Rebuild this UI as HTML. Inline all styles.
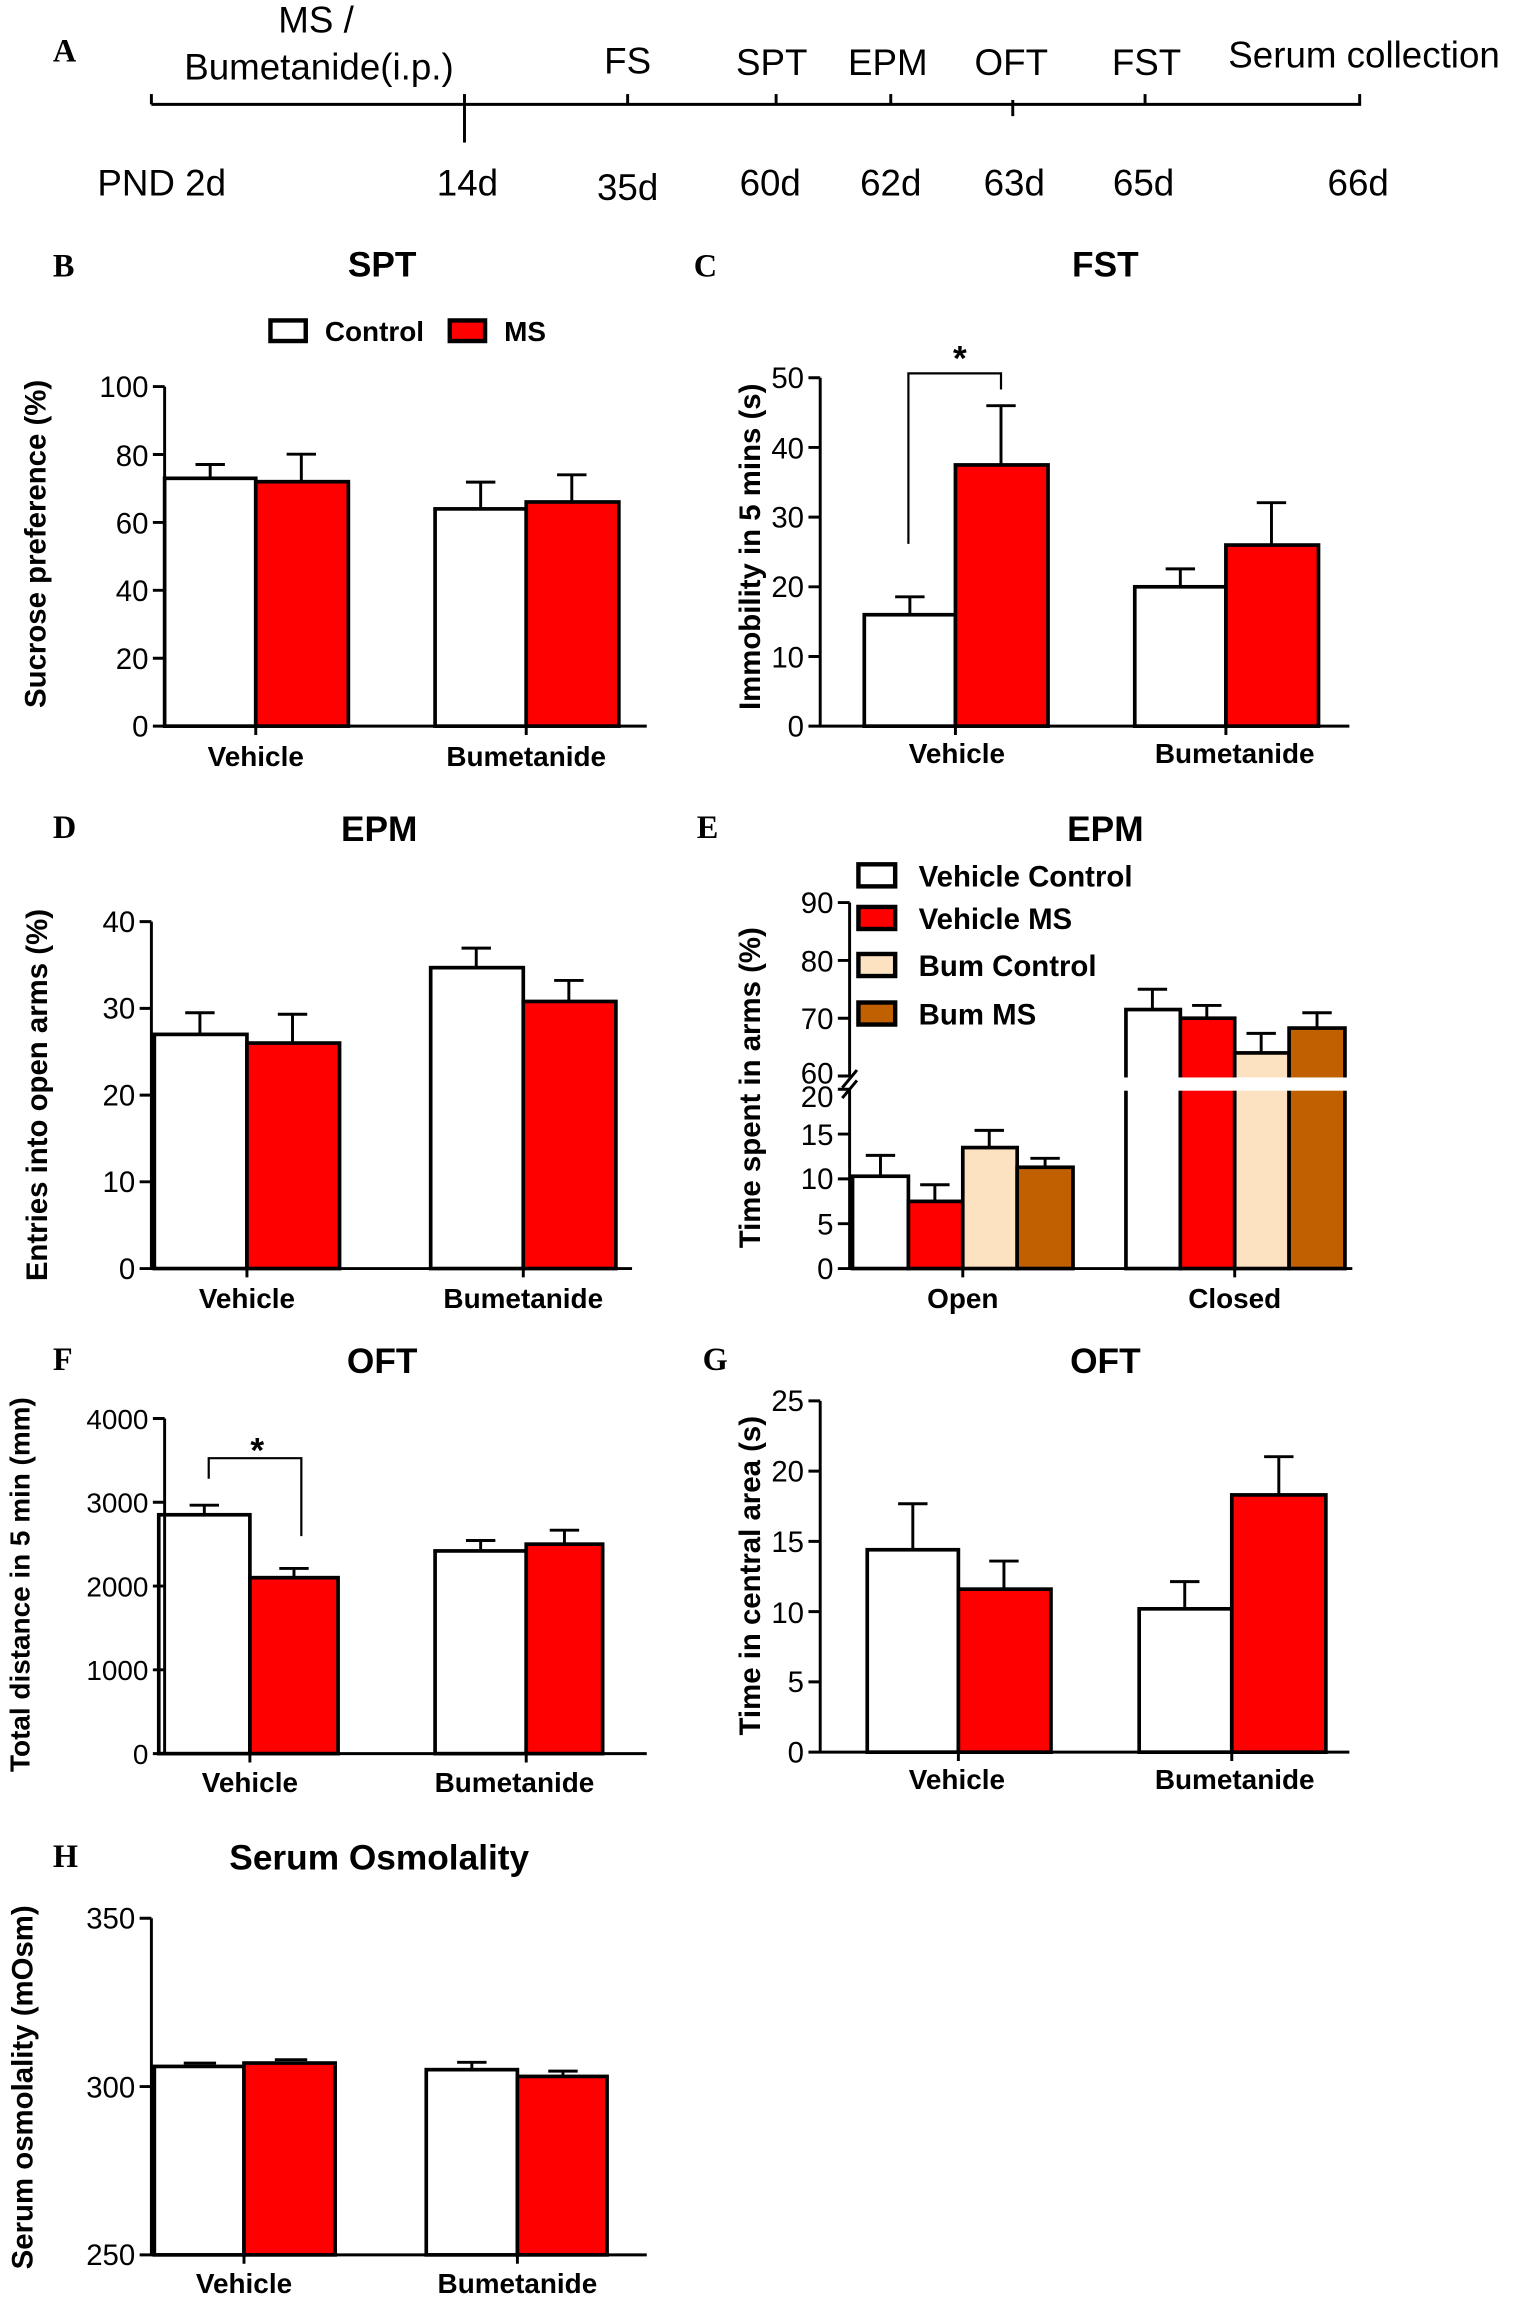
<!DOCTYPE html>
<html><head><meta charset="utf-8"><style>html,body{margin:0;padding:0;background:#fff}svg{display:block}</style></head>
<body>
<svg width="1514" height="2300" viewBox="0 0 1030 1564.7" preserveAspectRatio="none" xmlns="http://www.w3.org/2000/svg" font-family="Liberation Sans, Arial, sans-serif">
<rect width="1030" height="1565" fill="#fff"/>
<g fill="#000" font-family="Liberation Serif, serif" font-weight="bold" font-size="22">
<text x="36" y="42">A</text><text x="36" y="188">B</text><text x="472" y="188">C</text>
<text x="36" y="570">D</text><text x="474" y="570">E</text><text x="36" y="932">F</text>
<text x="478" y="932">G</text><text x="36" y="1270">H</text></g>

<!-- Panel A -->
<g stroke="#000" stroke-width="2" fill="none">
<line x1="103" y1="71" x2="926" y2="71"/>
<line x1="103" y1="64" x2="103" y2="71"/><line x1="316" y1="64" x2="316" y2="97"/>
<line x1="427" y1="64" x2="427" y2="71"/><line x1="528" y1="64" x2="528" y2="71"/>
<line x1="606" y1="64" x2="606" y2="71"/><line x1="689" y1="68" x2="689" y2="79"/>
<line x1="779" y1="64" x2="779" y2="71"/><line x1="925" y1="64" x2="925" y2="71"/></g>
<g font-size="25" text-anchor="middle" fill="#000">
<text x="215" y="22">MS /</text><text x="217" y="54">Bumetanide(i.p.)</text>
<text x="427" y="50">FS</text><text x="525" y="51">SPT</text><text x="604" y="51">EPM</text>
<text x="688" y="51">OFT</text><text x="780" y="51">FST</text><text x="928" y="46">Serum collection</text>
<text x="110" y="133">PND 2d</text><text x="318" y="133">14d</text><text x="427" y="136">35d</text>
<text x="524" y="133">60d</text><text x="606" y="133">62d</text><text x="690" y="133">63d</text>
<text x="778" y="133">65d</text><text x="924" y="133">66d</text></g>

<g font-weight="bold" font-size="24" text-anchor="middle" fill="#000">
<text x="260" y="188">SPT</text><text x="752" y="188">FST</text>
<text x="258" y="572">EPM</text><text x="752" y="572">EPM</text>
<text x="260" y="934">OFT</text><text x="752" y="934">OFT</text>
<text x="258" y="1272">Serum Osmolality</text></g>

<!-- Panel B -->
<g stroke="#000" stroke-width="3">
<rect x="184" y="218" width="24" height="14" fill="#fff"/><rect x="306" y="218" width="24" height="14" fill="#f00"/></g>
<g font-weight="bold" font-size="19" fill="#000"><text x="221" y="232">Control</text><text x="343" y="232">MS</text></g>
<g stroke="#000" stroke-width="2.5">
<rect x="112" y="325.4" width="62" height="168.6" fill="#fff"/>
<rect x="174" y="327.7" width="63" height="166.3" fill="#f00"/>
<rect x="296" y="346.2" width="62" height="147.8" fill="#fff"/>
<rect x="358" y="341.5" width="63" height="152.5" fill="#f00"/></g>
<g stroke="#000" stroke-width="2" fill="none">
<path d="M143 325V316M133 316H153M205 327V309M195 309H215M327 346V328M317 328H337M389 341V323M379 323H399"/>
<path d="M112 263V494H440M104 494H112M104 447.8H112M104 401.6H112M104 355.4H112M104 309.2H112M104 263H112M174 494V500M358 494V500"/></g>
<g font-size="20" text-anchor="end" fill="#000"><text x="101" y="501">0</text><text x="101" y="455">20</text><text x="101" y="409">40</text><text x="101" y="363">60</text><text x="101" y="317">80</text><text x="101" y="270">100</text></g>
<g font-weight="bold" font-size="19" text-anchor="middle" fill="#000">
<text x="174" y="521">Vehicle</text><text x="358" y="521">Bumetanide</text>
<text transform="translate(31 370) rotate(-90)" font-size="20">Sucrose preference (%)</text></g>

<!-- Panel C -->
<g stroke="#000" stroke-width="2.5">
<rect x="588" y="418.2" width="62" height="75.8" fill="#fff"/>
<rect x="650" y="316.3" width="63" height="177.7" fill="#f00"/>
<rect x="772" y="399.2" width="62" height="94.8" fill="#fff"/>
<rect x="834" y="370.8" width="63" height="123.2" fill="#f00"/></g>
<g stroke="#000" stroke-width="2" fill="none">
<path d="M619 418V406M609 406H629M681 316V276M671 276H691M803 399V387M793 387H813M865 371V342M855 342H875"/>
<path d="M618 370V254H681V265" stroke-width="1.5"/>
<path d="M558 257V494H918M550 494H558M550 446.6H558M550 399.2H558M550 351.8H558M550 304.4H558M550 257H558M650 494V500M834 494V500"/></g>
<text x="653" y="252" font-size="24" font-weight="bold" text-anchor="middle">*</text>
<g font-size="20" text-anchor="end" fill="#000"><text x="547" y="501">0</text><text x="547" y="454">10</text><text x="547" y="406">20</text><text x="547" y="359">30</text><text x="547" y="312">40</text><text x="547" y="264">50</text></g>
<g font-weight="bold" font-size="19" text-anchor="middle" fill="#000">
<text x="651" y="519">Vehicle</text><text x="840" y="519">Bumetanide</text>
<text transform="translate(517 372) rotate(-90)" font-size="20">Immobility in 5 mins (s)</text></g>

<!-- Panel D -->
<g stroke="#000" stroke-width="2.5">
<rect x="105" y="703.7" width="63" height="159.3" fill="#fff"/>
<rect x="168" y="709.6" width="63" height="153.4" fill="#f00"/>
<rect x="293" y="658.3" width="63" height="204.7" fill="#fff"/>
<rect x="356" y="681.3" width="63" height="181.7" fill="#f00"/></g>
<g stroke="#000" stroke-width="2" fill="none">
<path d="M136 704V689M126 689H146M199 710V690M189 690H209M324 658V645M314 645H334M387 681V667M377 667H397"/>
<path d="M103 627V863H430M95 863H103M95 804H103M95 745H103M95 686H103M95 627H103M168 863V869M356 863V869"/></g>
<g font-size="20" text-anchor="end" fill="#000"><text x="92" y="870">0</text><text x="92" y="811">10</text><text x="92" y="752">20</text><text x="92" y="693">30</text><text x="92" y="634">40</text></g>
<g font-weight="bold" font-size="19" text-anchor="middle" fill="#000">
<text x="168" y="890">Vehicle</text><text x="356" y="890">Bumetanide</text>
<text transform="translate(32 745) rotate(-90)" font-size="20">Entries into open arms (%)</text></g>

<!-- Panel E -->
<g stroke="#000" stroke-width="3">
<rect x="584" y="588" width="25" height="15" fill="#fff"/>
<rect x="584" y="617" width="25" height="15" fill="#f00"/>
<rect x="584" y="649" width="25" height="15" fill="#fde2c2"/>
<rect x="584" y="682" width="25" height="15" fill="#c06000"/></g>
<g font-weight="bold" font-size="20" fill="#000">
<text x="625" y="603">Vehicle Control</text><text x="625" y="632">Vehicle MS</text>
<text x="625" y="664">Bum Control</text><text x="625" y="697">Bum MS</text></g>
<g stroke="#000" stroke-width="2.5">
<rect x="580" y="800.2" width="38" height="62.8" fill="#fff"/>
<rect x="618" y="817.3" width="37" height="45.7" fill="#f00"/>
<rect x="655" y="780.7" width="37" height="82.3" fill="#fde2c2"/>
<rect x="692" y="794.1" width="38" height="68.9" fill="#c06000"/>
<rect x="766" y="686.8" width="37" height="176.2" fill="#fff"/>
<rect x="803" y="692.7" width="37" height="170.3" fill="#f00"/>
<rect x="840" y="716.3" width="37" height="146.7" fill="#fde2c2"/>
<rect x="877" y="699.4" width="38" height="163.6" fill="#c06000"/></g>
<rect x="760" y="733" width="160" height="9" fill="#fff"/>
<g stroke="#000" stroke-width="2" fill="none">
<path d="M599 800V786M589 786H609M636 817V806M626 806H646M673 781V769M663 769H683M711 794V788M701 788H721"/>
<path d="M784 687V673M774 673H794M821 693V684M811 684H831M858 716V703M848 703H868M896 699V689M886 689H906"/>
<path d="M578 614V733M578 741V863H920M570 863H578M570 832.5H578M570 802H578M570 771.5H578M570 741H578M570 732H578M570 692.7H578M570 653.4H578M570 614H578M655 863V869M840 863V869"/>
<path d="M573 740L583 728M573 747L583 735"/></g>
<g font-size="20" text-anchor="end" fill="#000"><text x="567" y="870">0</text><text x="567" y="840">5</text><text x="567" y="809">10</text><text x="567" y="779">15</text><text x="567" y="753">20</text><text x="567" y="737">60</text><text x="567" y="700">70</text><text x="567" y="661">80</text><text x="567" y="621">90</text></g>
<g font-weight="bold" font-size="19" text-anchor="middle" fill="#000">
<text x="655" y="890">Open</text><text x="840" y="890">Closed</text>
<text transform="translate(517 740) rotate(-90)" font-size="20">Time spent in arms (%)</text></g>

<!-- Panel F -->
<g stroke="#000" stroke-width="2.5">
<rect x="108" y="1030.5" width="62" height="162.5" fill="#fff"/>
<rect x="170" y="1073.3" width="60" height="119.7" fill="#f00"/>
<rect x="296" y="1055.1" width="62" height="137.9" fill="#fff"/>
<rect x="358" y="1050.5" width="52" height="142.5" fill="#f00"/></g>
<g stroke="#000" stroke-width="2" fill="none">
<path d="M139 1030V1024M129 1024H149M200 1073V1067M190 1067H210M327 1055V1048M317 1048H337M384 1050V1041M374 1041H394"/>
<path d="M142 1006V992H205V1045" stroke-width="1.5"/>
<path d="M112 965V1193H440M104 1193H112M104 1136H112M104 1079H112M104 1022H112M104 965H112M170 1193V1199M358 1193V1199"/></g>
<text x="175" y="995" font-size="24" font-weight="bold" text-anchor="middle">*</text>
<g font-size="19" text-anchor="end" fill="#000"><text x="101" y="1200">0</text><text x="101" y="1143">1000</text><text x="101" y="1086">2000</text><text x="101" y="1029">3000</text><text x="101" y="972">4000</text></g>
<g font-weight="bold" font-size="19" text-anchor="middle" fill="#000">
<text x="170" y="1219">Vehicle</text><text x="350" y="1219">Bumetanide</text>
<text transform="translate(20 1078) rotate(-90)" font-size="19">Total distance in 5 min (mm)</text></g>

<!-- Panel G -->
<g stroke="#000" stroke-width="2.5">
<rect x="590" y="1054.3" width="62" height="137.7" fill="#fff"/>
<rect x="652" y="1081.1" width="63" height="110.9" fill="#f00"/>
<rect x="775" y="1094.5" width="63" height="97.5" fill="#fff"/>
<rect x="838" y="1017" width="64" height="175" fill="#f00"/></g>
<g stroke="#000" stroke-width="2" fill="none">
<path d="M621 1054V1023M611 1023H631M683 1081V1062M673 1062H693M806 1094V1076M796 1076H816M870 1017V991M860 991H880"/>
<path d="M558 953V1192H918M550 1192H558M550 1144.2H558M550 1096.4H558M550 1048.6H558M550 1000.8H558M550 953H558M652 1192V1198M838 1192V1198"/></g>
<g font-size="20" text-anchor="end" fill="#000"><text x="547" y="1199">0</text><text x="547" y="1151">5</text><text x="547" y="1104">10</text><text x="547" y="1056">15</text><text x="547" y="1008">20</text><text x="547" y="960">25</text></g>
<g font-weight="bold" font-size="19" text-anchor="middle" fill="#000">
<text x="651" y="1217">Vehicle</text><text x="840" y="1217">Bumetanide</text>
<text transform="translate(517 1072) rotate(-90)" font-size="20">Time in central area (s)</text></g>

<!-- Panel H -->
<g stroke="#000" stroke-width="2.5">
<rect x="105" y="1405.8" width="61" height="128.2" fill="#fff"/>
<rect x="166" y="1403.5" width="62" height="130.5" fill="#f00"/>
<rect x="290" y="1408" width="62" height="126" fill="#fff"/>
<rect x="352" y="1412.6" width="61" height="121.4" fill="#f00"/></g>
<g stroke="#000" stroke-width="2" fill="none">
<path d="M125 1403.5H147M187 1401.2H209M321 1408V1403M311 1403H331M383 1412V1409M373 1409H393"/>
<path d="M103 1305V1534H440M95 1534H103M95 1419.5H103M95 1305H103M166 1534V1540M352 1534V1540"/></g>
<g font-size="20" text-anchor="end" fill="#000"><text x="92" y="1541">250</text><text x="92" y="1427">300</text><text x="92" y="1312">350</text></g>
<g font-weight="bold" font-size="19" text-anchor="middle" fill="#000">
<text x="166" y="1560">Vehicle</text><text x="352" y="1560">Bumetanide</text>
<text transform="translate(22 1420) rotate(-90)" font-size="20">Serum osmolality (mOsm)</text></g>
</svg>
</body></html>
